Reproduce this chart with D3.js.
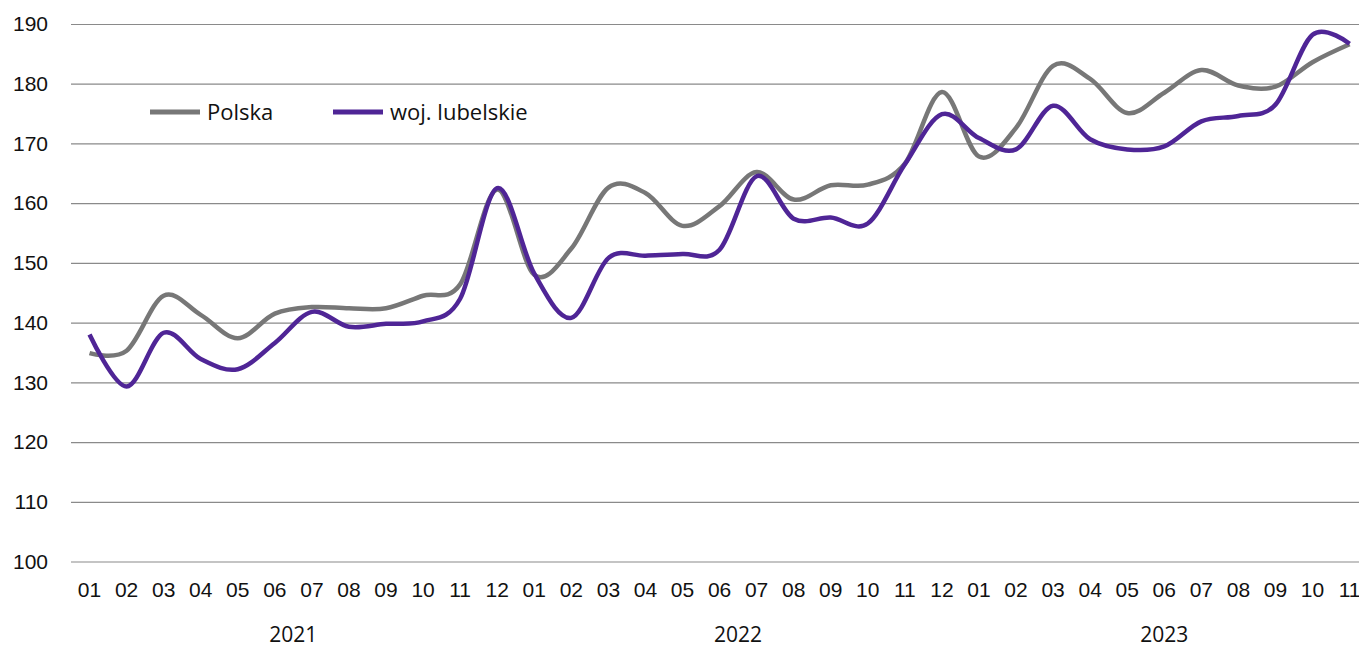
<!DOCTYPE html>
<html>
<head>
<meta charset="utf-8">
<script src="https://cdn.jsdelivr.net/npm/d3@7"></script>
<style>
  body { margin: 0; background: #fff; }
  svg { display: block; font-family: "Open Sans", "Noto Sans", sans-serif; }
  .grid line { stroke: #8a8a8a; stroke-width: 1.2; }
  .grid .domain { display: none; }
  .tick text { font-size: 21px; fill: #111; }
</style>
</head>
<body>
<script>
// months 2021-01 .. 2023-11
var years = ["2021", "2022", "2023"];
var monthLabels = ["01","02","03","04","05","06","07","08","09","10","11","12"];

var polska = [
  134.9, 135.3, 144.5, 141.3, 137.4, 141.5, 142.6, 142.4, 142.4, 144.5, 146.4, 162.3,
  148.0, 152.4, 162.6, 161.7, 156.2, 159.5, 165.2, 160.6, 163.0, 163.1, 166.6, 178.6,
  167.8, 172.6, 183.0, 180.8, 175.1, 178.5, 182.3, 179.7, 179.5, 183.6, 186.6
];
var lubelskie = [
  138.0, 129.3, 138.3, 133.9, 132.2, 136.6, 141.8, 139.3, 139.8, 140.2, 144.0, 162.5,
  148.2, 140.8, 150.8, 151.2, 151.5, 152.2, 164.5, 157.4, 157.6, 156.6, 166.5, 174.9,
  170.9, 169.0, 176.3, 170.7, 169.0, 169.5, 173.7, 174.6, 176.5, 188.2, 186.7
];

var seriesNames = ["Polska", "woj. lubelskie"];
var seriesColors = ["#777777", "#4f2596"];

// build category keys
var categories = [];
years.forEach(function(y) {
  monthLabels.forEach(function(m) { categories.push(y + "-" + m); });
});
categories = categories.slice(0, polska.length);

var W = 1359, H = 648;
var margin = {top: 24, left: 71, bottom: 87};
var band = 37.06;
var plotW = band * categories.length;

var svg = d3.select("body").append("svg")
    .attr("width", W)
    .attr("height", H);

var g = svg.append("g")
    .attr("transform", "translate(" + margin.left + "," + margin.top + ")");

var x = d3.scaleBand().domain(categories).range([0, plotW]);
var y = d3.scaleLinear().domain([100, 190]).range([537.5, 0]);

// horizontal gridlines + y labels
g.append("g")
    .attr("class", "grid")
    .call(d3.axisLeft(y).tickValues(d3.range(100, 191, 10)).tickSize(-plotW).tickPadding(23))
    .call(function(a) { a.selectAll(".tick line").attr("x1", 0); });

// month labels
g.append("g")
    .attr("class", "grid")
    .attr("transform", "translate(0,537.5)")
    .call(d3.axisBottom(x).tickSize(0).tickPadding(21)
        .tickFormat(function(d) { return d.slice(5); }));

// year labels
years.forEach(function(yr) {
  var ks = categories.filter(function(c) { return c.slice(0, 4) === yr; });
  var cx = (x(ks[0]) + x(ks[ks.length - 1])) / 2 + x.bandwidth() / 2;
  g.append("text")
    .attr("x", cx)
    .attr("y", 618)
    .attr("text-anchor", "middle")
    .style("font-size", "21px")
    .attr("fill", "#111")
    .text(yr);
});

var line = d3.line()
    .curve(d3.curveCardinal.tension(0))
    .x(function(d, i) { return x(categories[i]) + x.bandwidth() / 2; })
    .y(function(d) { return y(d); });

[polska, lubelskie].forEach(function(s, i) {
  g.append("path")
    .datum(s)
    .attr("fill", "none")
    .attr("stroke", seriesColors[i])
    .attr("stroke-width", 4.5)
    .attr("stroke-linejoin", "round")
    .attr("d", line);
});

// legend
var legX = [150, 333];
seriesNames.forEach(function(n, i) {
  var lg = svg.append("g").attr("transform", "translate(" + legX[i] + ",112)");
  lg.append("line")
    .attr("x1", 0).attr("x2", 50)
    .attr("stroke", seriesColors[i])
    .attr("stroke-width", 5);
  lg.append("text")
    .attr("x", 57)
    .attr("dy", "0.35em")
    .style("font-size", "22px")
    .attr("fill", "#111")
    .text(n);
});
</script>
</body>
</html>
